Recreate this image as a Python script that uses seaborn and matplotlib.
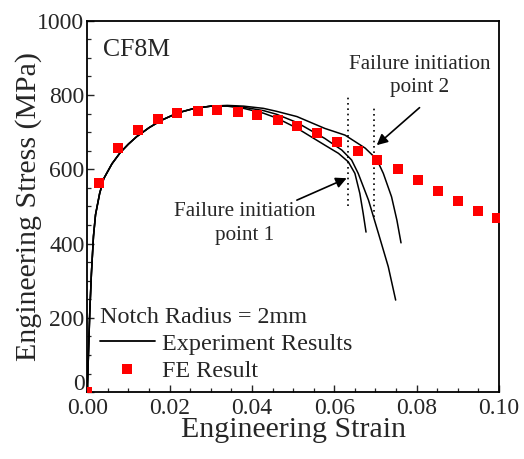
import numpy as np
import pandas as pd
import matplotlib
matplotlib.use("Agg")
import matplotlib.pyplot as plt
import matplotlib.transforms as mtransforms
from matplotlib.lines import Line2D
import seaborn as sns

# ---------------- data ----------------
early_strain = [0, 0.0003, 0.0006, 0.001, 0.0015, 0.002, 0.003, 0.004, 0.006, 0.008,
                0.010, 0.012, 0.015, 0.018, 0.022, 0.026, 0.030]
early_stress = [0, 110, 215, 320, 420, 478, 535, 575, 615, 645,
                668, 688, 712, 732, 752, 764, 770]

expA_strain = early_strain + [0.034, 0.038, 0.0428, 0.046, 0.0509, 0.0577, 0.0626, 0.0675,
                              0.0703, 0.0719, 0.0739, 0.0752, 0.0762]
expA_stress = early_stress + [772, 770, 764, 756, 742, 710, 692, 657,
                              627, 589, 526, 463, 402]

expB_strain = early_strain + [0.034, 0.038, 0.0428, 0.046, 0.0509, 0.0577, 0.0618, 0.0642,
                              0.0658, 0.0683, 0.0707, 0.0731, 0.0749]
expB_stress = early_stress + [771, 767, 758, 748, 726, 683, 652, 625,
                              589, 517, 428, 338, 248]

expC_strain = early_strain + [0.034, 0.038, 0.0428, 0.046, 0.0509, 0.0577, 0.0610, 0.0634,
                              0.0650, 0.0662, 0.0670, 0.0677]
expC_stress = early_stress + [770, 764, 751, 738, 711, 665, 643, 620,
                              589, 535, 482, 431]

fe_strain = [0, 0.0029, 0.0075, 0.0122, 0.0171, 0.0219, 0.0268, 0.0316, 0.0365, 0.0411,
             0.0462, 0.0510, 0.0559, 0.0606, 0.0657, 0.0704, 0.0754, 0.0803, 0.0851,
             0.0900, 0.0949, 0.0995]
fe_stress = [0, 564, 657, 706, 735, 751, 758, 760, 755, 746,
             733, 717, 699, 674, 650, 625, 600, 571, 542, 515, 489, 469]

x_ticks = [0.00, 0.02, 0.04, 0.06, 0.08, 0.10]
y_ticks = [0, 200, 400, 600, 800, 1000]

# ---------------- build tables ----------------
exp_df = pd.concat([
    pd.DataFrame({"strain": expA_strain, "stress": expA_stress, "curve": "A"}),
    pd.DataFrame({"strain": expB_strain, "stress": expB_stress, "curve": "B"}),
    pd.DataFrame({"strain": expC_strain, "stress": expC_stress, "curve": "C"}),
], ignore_index=True)
fe_df = pd.DataFrame({"strain": fe_strain, "stress": fe_stress})

# ---------------- style ----------------
sns.set_style("ticks")
plt.rcParams["font.family"] = ["Liberation Serif", "DejaVu Serif"]

fig = plt.figure(figsize=(5.24, 4.59), dpi=100)
ax = fig.add_axes([0.1666, 0.1455, 0.7857, 0.8094])

sns.lineplot(data=exp_df, x="strain", y="stress", units="curve", estimator=None,
             sort=False, color="black", linewidth=1.1, ax=ax, legend=False)
sns.scatterplot(data=fe_df, x="strain", y="stress", marker="s", color="#ff0000",
                s=44, linewidth=0, ax=ax, legend=False, zorder=3)

ax.set_xlim(0, 0.10)
ax.set_ylim(0, 1000)
ax.set_xticks(x_ticks)
ax.set_xticklabels([f"{v:.2f}" for v in x_ticks])
ax.set_yticks(y_ticks)
ax.set_yticklabels([str(v) for v in y_ticks])
ax.set_xticks(np.arange(0, 0.1001, 0.005), minor=True)
ax.set_yticks(np.arange(0, 1001, 50), minor=True)
ax.tick_params(which="major", direction="in", length=5, width=1.0, labelsize=17,
               top=False, right=False)
ax.tick_params(axis="x", which="major", pad=4)
ax.tick_params(axis="y", which="major", pad=2)
ax.tick_params(which="minor", direction="in", length=3, width=0.9, top=False, right=False)
for s in ax.spines.values():
    s.set_linewidth(1.3)
    s.set_color("black")

# raise the "0" y tick label a little, as in the reference, so it clears "0.00"
zero_lbl = ax.get_yticklabels()[0]
zero_lbl.set_transform(zero_lbl.get_transform() +
                       mtransforms.ScaledTranslation(0, 7 / 72, fig.dpi_scale_trans))

ax.set_xlabel("Engineering Strain", fontsize=21.5, labelpad=-1)
ax.set_ylabel("Engineering Stress (MPa)", fontsize=21.5, labelpad=-3)

# dotted failure lines
ax.plot([0.0634, 0.0634], [500, 800], linestyle=(0, (1, 2.2)), color="black", lw=1.2)
ax.plot([0.0697, 0.0697], [472, 773], linestyle=(0, (1, 2.2)), color="black", lw=1.2)

# annotation texts
ax.text(0.0808, 852, "Failure initiation\npoint 2", ha="center", va="center",
        fontsize=15.2, linespacing=1.3)
ax.text(0.0383, 455, "Failure initiation\npoint 1", ha="center", va="center",
        fontsize=15.2, linespacing=1.35)

# arrows
arrow_kw = dict(arrowstyle="-|>", color="black", lw=1.2, mutation_scale=16,
                shrinkA=0, shrinkB=0)
ax.annotate("", xy=(0.0703, 665), xytext=(0.0807, 766), arrowprops=arrow_kw)
ax.annotate("", xy=(0.0630, 576), xytext=(0.0509, 517), arrowprops=arrow_kw)

ax.text(0.037, 0.921, "CF8M", transform=ax.transAxes, fontsize=18.5,
        ha="left", va="center")

handles = [
    Line2D([], [], color="black", lw=1.3),
    Line2D([], [], color="#ff0000", marker="s", linestyle="none", markersize=6.5,
           markeredgewidth=0),
]
leg = ax.legend(handles, ["Experiment Results", "FE Result"],
                title="Notch Radius = 2mm", title_fontsize=17.4, fontsize=17.4,
                loc="lower left", bbox_to_anchor=(-0.017, -0.025), frameon=False,
                handlelength=2.3, handletextpad=0.3, labelspacing=0.22,
                borderpad=0.3, alignment="left")

fig.savefig("out.png", dpi=100)
